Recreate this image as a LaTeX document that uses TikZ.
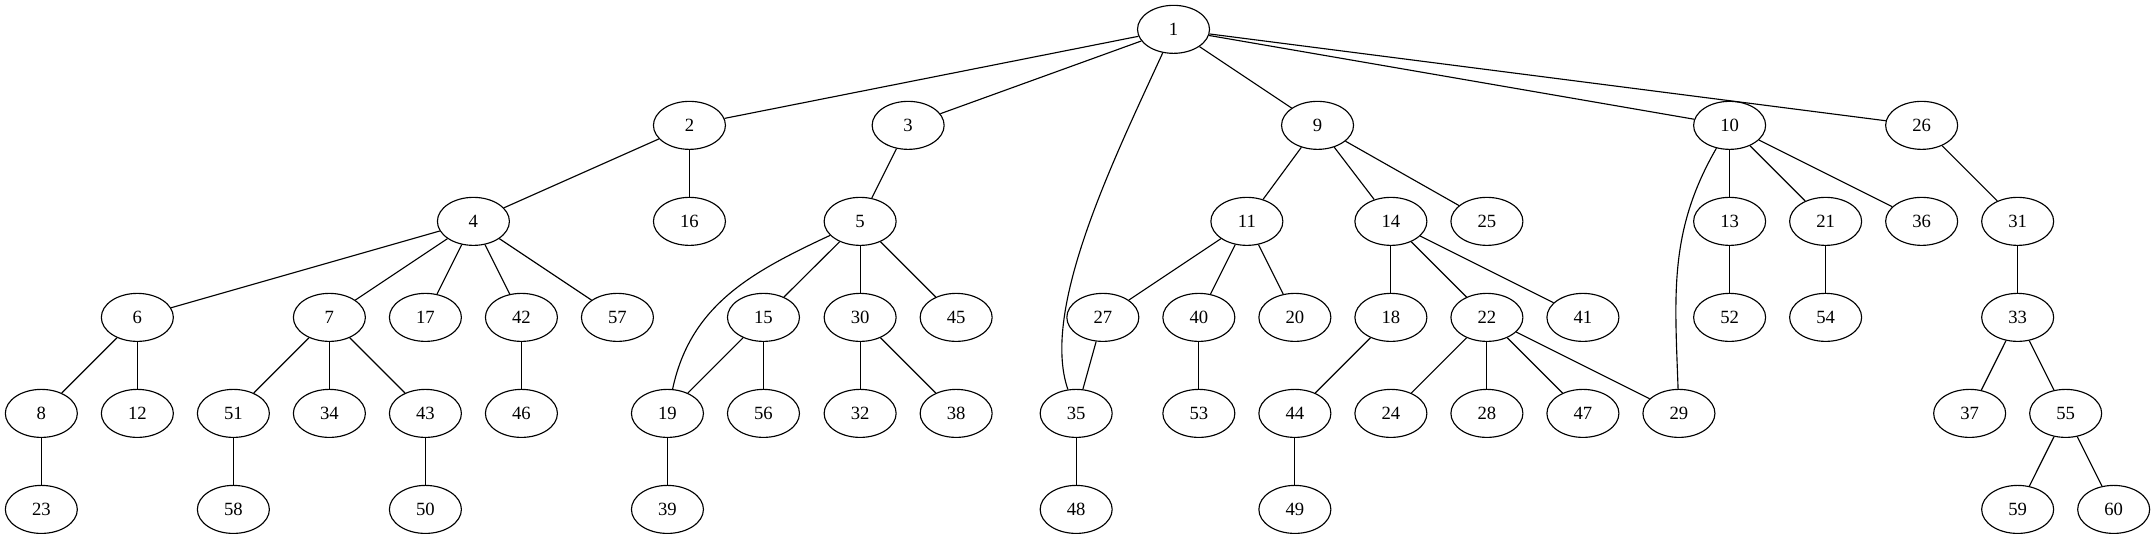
\documentclass[tikz,border=0pt]{standalone}
\usepackage{fontspec}
\setmainfont{Liberation Serif}
\usetikzlibrary{shapes.geometric}
\begin{document}
\begin{tikzpicture}[x=1pt,y=-1pt,
  vtx/.style={draw,ellipse,line width=0.85pt,minimum width=54pt,minimum height=36pt,inner sep=0pt,font=\fontsize{14}{16}\selectfont},
  edge/.style={line width=0.85pt}]
\useasboundingbox (0,0) rectangle (1616,404);
% rank 0
\node[vtx] (n1) at (880,22) {1};
% rank 1
\node[vtx] (n2) at (517,94) {2};
\node[vtx] (n3) at (681,94) {3};
\node[vtx] (n9) at (988,94) {9};
\node[vtx] (n10) at (1297,94) {10};
\node[vtx] (n26) at (1441,94) {26};
% rank 2
\node[vtx] (n4) at (355,166) {4};
\node[vtx] (n16) at (517,166) {16};
\node[vtx] (n5) at (645,166) {5};
\node[vtx] (n11) at (935,166) {11};
\node[vtx] (n14) at (1043,166) {14};
\node[vtx] (n25) at (1115,166) {25};
\node[vtx] (n13) at (1297,166) {13};
\node[vtx] (n21) at (1369,166) {21};
\node[vtx] (n36) at (1441,166) {36};
\node[vtx] (n31) at (1513,166) {31};
% rank 3
\node[vtx] (n6) at (103,238) {6};
\node[vtx] (n7) at (247,238) {7};
\node[vtx] (n17) at (319,238) {17};
\node[vtx] (n42) at (391,238) {42};
\node[vtx] (n57) at (463,238) {57};
\node[vtx] (n15) at (572.5,238) {15};
\node[vtx] (n30) at (645,238) {30};
\node[vtx] (n45) at (717,238) {45};
\node[vtx] (n27) at (827,238) {27};
\node[vtx] (n40) at (899,238) {40};
\node[vtx] (n20) at (971,238) {20};
\node[vtx] (n18) at (1043,238) {18};
\node[vtx] (n22) at (1115,238) {22};
\node[vtx] (n41) at (1187,238) {41};
\node[vtx] (n52) at (1297,238) {52};
\node[vtx] (n54) at (1369,238) {54};
\node[vtx] (n33) at (1513,238) {33};
% rank 4
\node[vtx] (n8) at (31,310) {8};
\node[vtx] (n12) at (103,310) {12};
\node[vtx] (n51) at (175,310) {51};
\node[vtx] (n34) at (247,310) {34};
\node[vtx] (n43) at (319,310) {43};
\node[vtx] (n46) at (391,310) {46};
\node[vtx] (n19) at (500.5,310) {19};
\node[vtx] (n56) at (572.5,310) {56};
\node[vtx] (n32) at (645,310) {32};
\node[vtx] (n38) at (717,310) {38};
\node[vtx] (n35) at (807,310) {35};
\node[vtx] (n53) at (899,310) {53};
\node[vtx] (n44) at (971,310) {44};
\node[vtx] (n24) at (1043,310) {24};
\node[vtx] (n28) at (1115,310) {28};
\node[vtx] (n47) at (1187,310) {47};
\node[vtx] (n29) at (1259,310) {29};
\node[vtx] (n37) at (1477,310) {37};
\node[vtx] (n55) at (1549,310) {55};
% rank 5
\node[vtx] (n23) at (31,382) {23};
\node[vtx] (n58) at (175,382) {58};
\node[vtx] (n50) at (319,382) {50};
\node[vtx] (n39) at (500.5,382) {39};
\node[vtx] (n48) at (807,382) {48};
\node[vtx] (n49) at (971,382) {49};
\node[vtx] (n59) at (1513,382) {59};
\node[vtx] (n60) at (1585,382) {60};
% edges
\foreach \a/\b in {n1/n2,n1/n3,n1/n9,n1/n10,n1/n26,
  n2/n4,n2/n16,n3/n5,
  n4/n6,n4/n7,n4/n17,n4/n42,n4/n57,
  n5/n15,n5/n30,n5/n45,
  n9/n11,n9/n14,n9/n25,
  n10/n13,n10/n21,n10/n36,n26/n31,
  n6/n8,n6/n12,n7/n51,n7/n34,n7/n43,n42/n46,
  n15/n19,n15/n56,n30/n32,n30/n38,
  n11/n27,n11/n40,n11/n20,n27/n35,n40/n53,
  n14/n18,n14/n22,n14/n41,n18/n44,
  n22/n24,n22/n28,n22/n47,n22/n29,
  n13/n52,n21/n54,n31/n33,n33/n37,n33/n55,
  n8/n23,n51/n58,n43/n50,n19/n39,n35/n48,n44/n49,n55/n59,n55/n60}
  \draw[edge] (\a) -- (\b);
\draw[edge] (n1) .. controls (835,120) and (780,232) .. (n35);
\draw[edge] (n5) to[out=-155,in=78] (n19);
\draw[edge] (n10) to[out=-120,in=92] (n29);
\end{tikzpicture}
\end{document}
